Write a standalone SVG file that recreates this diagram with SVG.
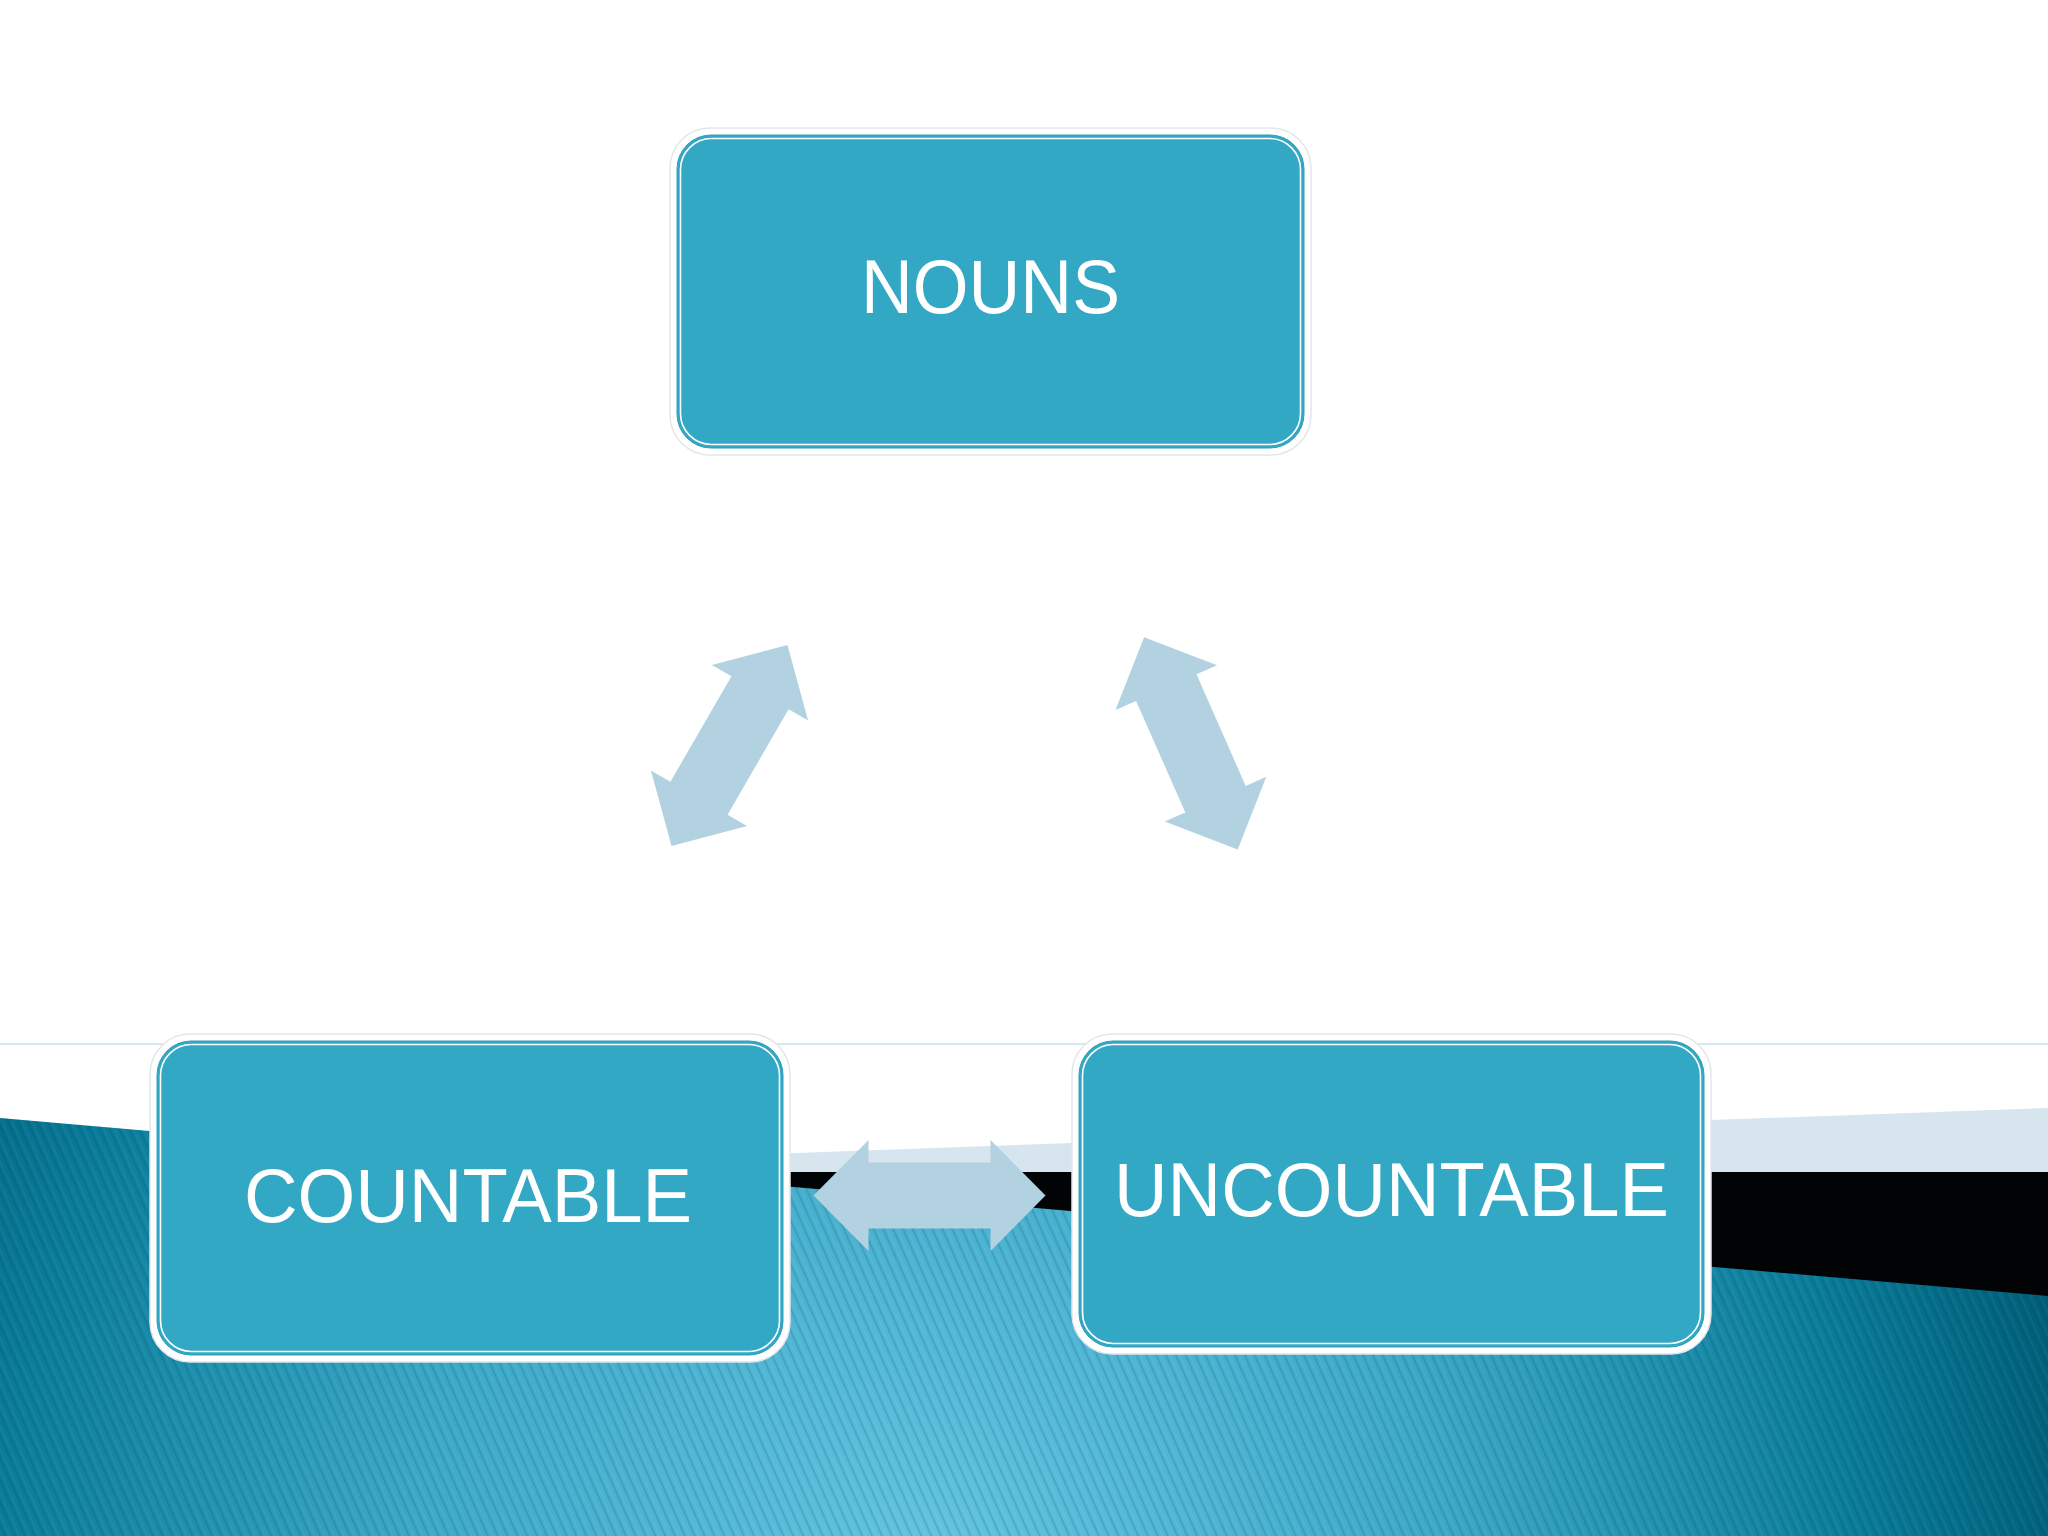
<svg xmlns="http://www.w3.org/2000/svg" width="2048" height="1536" viewBox="0 0 2048 1536">
  <defs>
    <radialGradient id="seaGrad" gradientUnits="userSpaceOnUse" cx="930" cy="1560" r="1150">
      <stop offset="0" stop-color="#63c4e0"/>
      <stop offset="0.45" stop-color="#3ca8c8"/>
      <stop offset="0.8" stop-color="#0a7d9b"/>
      <stop offset="1" stop-color="#005e78"/>
    </radialGradient>
    <pattern id="stripes" patternUnits="userSpaceOnUse" width="9" height="9" patternTransform="rotate(-24)">
      <rect x="0" y="0" width="2" height="9" fill="#003b52" fill-opacity="0.15"/>
      <rect x="4" y="0" width="1.5" height="9" fill="#ffffff" fill-opacity="0.05"/>
    </pattern>
    <polygon id="dblArrow" points="-116,0 -61,-55.5 -61,-33 61,-33 61,-55.5 116,0 61,55.5 61,33 -61,33 -61,55.5"/>
  </defs>
  <style>
    .outer { fill: #ffffff; stroke: #e3e6e8; stroke-width: 1.5; }
    .inner { fill: #33a8c5; stroke: #2e9fbd; stroke-width: 1; }
    .inline { fill: none; stroke: #ffffff; stroke-width: 1.6; }
    .label { font-family: "Liberation Sans", Arial, sans-serif; font-size: 76px; fill: #ffffff; text-anchor: middle; }
    .arrow { fill: #b3d2e1; }
  </style>

  <!-- background -->
  <rect x="0" y="0" width="2048" height="1536" fill="#ffffff"/>
  <rect x="0" y="1043" width="2048" height="2" fill="#d3e9ee"/>
  <polygon points="600,1160 2048,1108 2048,1180 600,1180" fill="#d6e5ee"/>
  <polygon points="600,1172 2048,1172 2048,1310 600,1310" fill="#020304"/>
  <polygon points="0,1118 2048,1296 2048,1536 0,1536" fill="url(#seaGrad)"/>
  <polygon points="0,1118 2048,1296 2048,1536 0,1536" fill="url(#stripes)"/>

  <!-- nodes -->
  <g id="node-nouns">
    <rect class="outer" x="670" y="128" width="641" height="327" rx="40"/>
    <rect class="inner" x="677" y="135" width="627" height="313" rx="34"/>
    <rect class="inline" x="680.5" y="138.5" width="620" height="306" rx="31"/>
    <text class="label" x="990.5" y="313" textLength="259" lengthAdjust="spacingAndGlyphs">NOUNS</text>
  </g>

  <g id="node-countable">
    <rect class="outer" x="150" y="1034" width="640" height="328" rx="40"/>
    <rect class="inner" x="157" y="1041" width="626" height="314" rx="34"/>
    <rect class="inline" x="160.5" y="1044.5" width="619" height="307" rx="31"/>
    <text class="label" x="468" y="1222" textLength="448" lengthAdjust="spacingAndGlyphs">COUNTABLE</text>
  </g>

  <g id="node-uncountable">
    <rect class="outer" x="1072" y="1034" width="639" height="320" rx="40"/>
    <rect class="inner" x="1079" y="1041" width="625" height="306" rx="34"/>
    <rect class="inline" x="1082.5" y="1044.5" width="618" height="299" rx="31"/>
    <text class="label" x="1391.5" y="1216" textLength="555" lengthAdjust="spacingAndGlyphs">UNCOUNTABLE</text>
  </g>

  <!-- connectors -->
  <g id="connectors">
    <use href="#dblArrow" class="arrow" transform="translate(729.5,745.5) rotate(-60)"/>
    <use href="#dblArrow" class="arrow" transform="translate(1190.9,743.4) rotate(66.2)"/>
    <use href="#dblArrow" class="arrow" transform="translate(929.5,1195.5)"/>
  </g>
</svg>
